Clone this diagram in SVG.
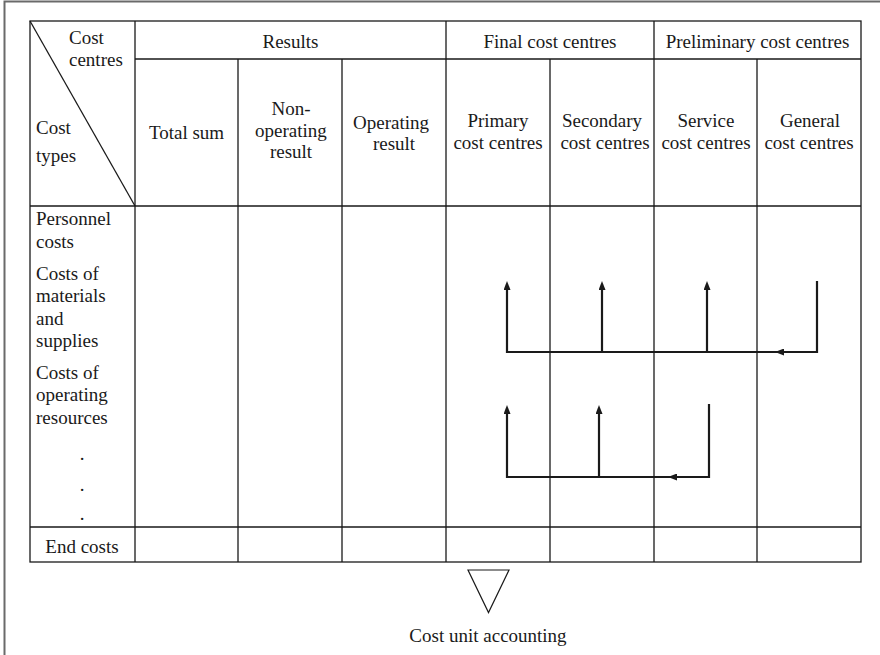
<svg xmlns="http://www.w3.org/2000/svg" width="880" height="655" viewBox="0 0 880 655">
  <style>
    .t { font-family: "Liberation Serif", "Times New Roman", serif; font-size: 19px; fill: #1a1a1a; }
    .c { text-anchor: middle; }
    .grid { stroke: #1a1a1a; stroke-width: 1.3; fill: none; }
    .frame { stroke: #6a6a6a; stroke-width: 2; fill: none; }
    .flow { stroke: #1a1a1a; stroke-width: 2.2; fill: none; stroke-linejoin: miter; }
    .tri { stroke: #1a1a1a; stroke-width: 1.2; fill: none; }
  </style>
  <defs>
    <marker id="head" viewBox="0 0 9 7" markerWidth="9" markerHeight="7" refX="3" refY="3.5" orient="auto" markerUnits="userSpaceOnUse">
      <path d="M0,0 L9,3.5 L0,7 z" fill="#1a1a1a"/>
    </marker>
  </defs>

  <rect width="880" height="655" fill="#ffffff"/>
  <!-- page frame (left and top edges) -->
  <path class="frame" d="M4.5,655 V1.5 H880"/>

  <!-- table grid -->
  <g id="grid">
    <rect class="grid" x="30" y="21" width="831" height="541"/>
    <path class="grid" d="M135,59 H861 M30,206 H861 M30,527 H861"/>
    <path class="grid" d="M135,21 V562 M446,21 V562 M654,21 V562"/>
    <path class="grid" d="M238,59 V562 M342,59 V562 M550,59 V562 M757,59 V562"/>
    <path class="grid" d="M30,21 L135,206"/>
  </g>

  <!-- corner cell -->
  <g id="corner">
    <text class="t" x="69" y="43.5">Cost</text>
    <text class="t" x="69" y="65.5">centres</text>
    <text class="t" x="36" y="133.5">Cost</text>
    <text class="t" x="36" y="162">types</text>
  </g>

  <!-- column group headers -->
  <g id="hdr-results"><text class="t c" x="290.5" y="47.5">Results</text></g>
  <g id="hdr-final"><text class="t c" x="550" y="47.5">Final cost centres</text></g>
  <g id="hdr-preliminary"><text class="t c" x="757.5" y="47.5">Preliminary cost centres</text></g>

  <!-- column headers -->
  <g id="col-total"><text class="t c" x="186.5" y="139">Total sum</text></g>
  <g id="col-nonop">
    <text class="t c" x="291" y="115">Non-</text>
    <text class="t c" x="291" y="136.5">operating</text>
    <text class="t c" x="291" y="157.5">result</text>
  </g>
  <g id="col-op">
    <text class="t c" x="391" y="128.5">Operating</text>
    <text class="t c" x="394" y="150">result</text>
  </g>
  <g id="col-primary">
    <text class="t c" x="498" y="126.5">Primary</text>
    <text class="t c" x="498" y="148.5">cost centres</text>
  </g>
  <g id="col-secondary">
    <text class="t c" x="602" y="126.5">Secondary</text>
    <text class="t c" x="605" y="148.5">cost centres</text>
  </g>
  <g id="col-service">
    <text class="t c" x="706" y="126.5">Service</text>
    <text class="t c" x="706" y="148.5">cost centres</text>
  </g>
  <g id="col-general">
    <text class="t c" x="810" y="126.5">General</text>
    <text class="t c" x="809" y="148.5">cost centres</text>
  </g>

  <!-- cost type rows -->
  <g id="row-personnel">
    <text class="t" x="36" y="225">Personnel</text>
    <text class="t" x="36" y="247.5">costs</text>
  </g>
  <g id="row-materials">
    <text class="t" x="36" y="279.5">Costs of</text>
    <text class="t" x="36" y="302">materials</text>
    <text class="t" x="36" y="324.5">and</text>
    <text class="t" x="36" y="347">supplies</text>
  </g>
  <g id="row-resources">
    <text class="t" x="36" y="378.5">Costs of</text>
    <text class="t" x="36" y="401">operating</text>
    <text class="t" x="36" y="423.5">resources</text>
  </g>
  <g id="row-more">
    <text class="t c" x="82" y="460">.</text>
    <text class="t c" x="82" y="491">.</text>
    <text class="t c" x="82" y="520">.</text>
  </g>
  <g id="row-end"><text class="t c" x="82" y="553">End costs</text></g>

  <!-- cost allocation flows -->
  <g id="connectors">
    <path class="flow" d="M817,281 V352 H781" marker-end="url(#head)"/>
    <path class="flow" d="M781,352 H507 V287" marker-end="url(#head)"/>
    <path class="flow" d="M602,352 V287" marker-end="url(#head)"/>
    <path class="flow" d="M707,352 V287" marker-end="url(#head)"/>

    <path class="flow" d="M709,404 V477 H674" marker-end="url(#head)"/>
    <path class="flow" d="M674,477 H507 V411" marker-end="url(#head)"/>
    <path class="flow" d="M599,477 V411" marker-end="url(#head)"/>
  </g>

  <!-- hand-over to cost unit accounting -->
  <g id="cost-unit">
    <polygon class="tri" points="468,570 509,570 488.5,612.5"/>
    <text class="t c" x="488" y="641.5">Cost unit accounting</text>
  </g>
</svg>
